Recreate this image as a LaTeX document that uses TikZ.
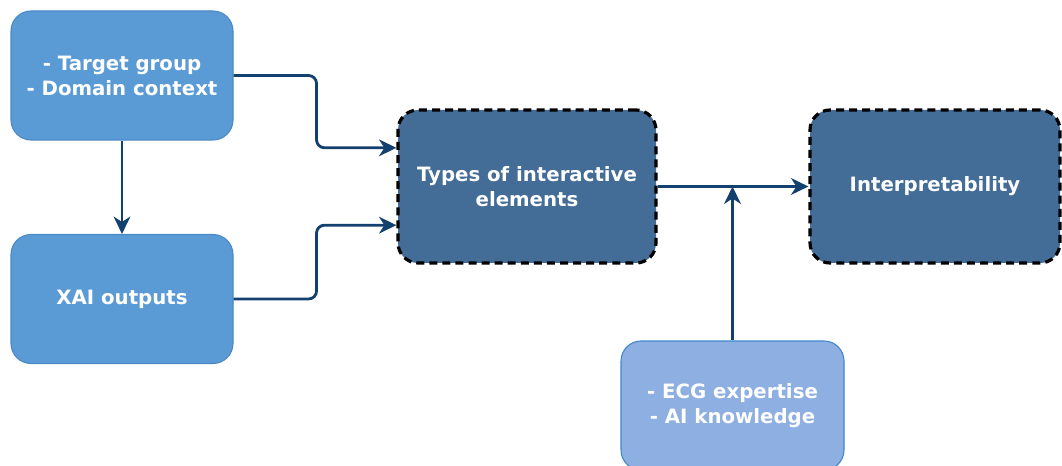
\documentclass[tikz,border=0pt]{standalone}
\usepackage{fontspec}
\setmainfont{DejaVu Sans}
\usetikzlibrary{arrows.meta,positioning}

\definecolor{inblue}{HTML}{5B9BD5}
\definecolor{inedge}{HTML}{4A88C6}
\definecolor{stageblue}{HTML}{436C97}
\definecolor{userblue}{HTML}{8EAFE1}
\definecolor{useredge}{HTML}{3F86CA}
\definecolor{linknavy}{HTML}{12406F}

\tikzset{
  boxtext/.style={text=white, font=\fontsize{14.8}{18.75}\selectfont\bfseries,
    align=center, inner sep=0pt, rounded corners=15pt},
  inbox/.style={boxtext, fill=inblue, draw=inedge, line width=0.8pt,
    minimum width=166.5pt, minimum height=96.75pt},
  stagebox/.style={boxtext, fill=stageblue, draw=black, line width=2.4pt,
    dash pattern=on 6pt off 3.8pt, minimum height=114.75pt},
  userbox/.style={boxtext, fill=userblue, draw=useredge, line width=0.8pt,
    minimum width=167.25pt, minimum height=96.75pt},
  link/.style={draw=linknavy, line width=2.1pt, rounded corners=6pt,
    -{Stealth[length=13pt,width=12.5pt,inset=4pt]}}
}

\begin{document}
\begin{tikzpicture}[x=0.75pt,y=-0.75pt]
\useasboundingbox (0,0) rectangle (1062,466);

% inputs on the left
\node[inbox] (target) at (122,75.5) {- Target group\\- Domain context};
\node[inbox] (xai) at (122,299) {XAI outputs};

% dashed stages
\node[stagebox, minimum width=193.5pt] (types) at (527,186.5) {Types of interactive\\elements};
\node[stagebox, minimum width=187.5pt] (interp) at (935,186.5) {Interpretability};

% user background
\node[userbox] (user) at (732.5,405.5) {- ECG expertise\\- AI knowledge};

\draw[link] (target.south) -- (xai.north);
\draw[link] (target.east) -- ++(83,0) |- ([yshift=29pt]types.west);
\draw[link] (xai.east) -- ++(83,0) |- ([yshift=-29pt]types.west);
\draw[link] (types.east) -- (interp.west);
\draw[link] (user.north) -- (user.north |- types.east);
\end{tikzpicture}
\end{document}
